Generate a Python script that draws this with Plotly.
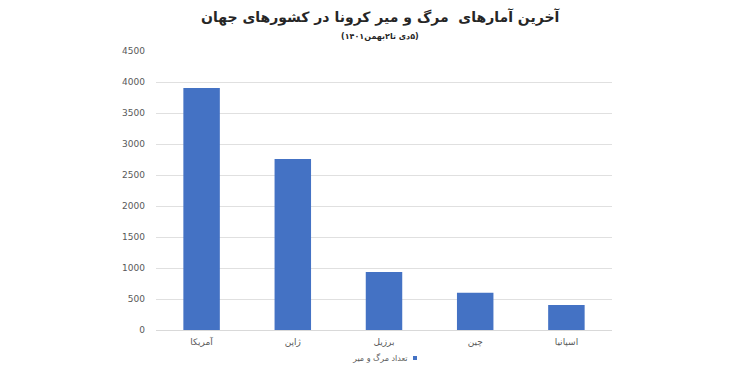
import plotly.graph_objects as go

categories = ["آمریکا", "ژاپن", "برزیل", "چین", "اسپانیا"]
deaths = [3903, 2760, 935, 600, 405]
y_ticks = [0, 500, 1000, 1500, 2000, 2500, 3000, 3500, 4000, 4500]
series_name = "تعداد مرگ و میر"
title_text = "آخرین آمارهای  مرگ و میر کرونا در کشورهای جهان"
LRM = "\u200E"
subtitle_parts = ["(", "۱۴۰۱", "بهمن", "۲", "تا", " ", "دی", "۵", ")"]
subtitle_text = "\u202A" + LRM.join(subtitle_parts) + "\u202C"

W, H = 745, 375
L, R, T, B = 156, 133, 51, 45
plot_w = W - L - R
plot_h = H - T - B

def px_x(x):
    return (x - L) / plot_w

def px_y(y):
    return 1 + (T - y) / plot_h

bar_color = "#4472C4"

fig = go.Figure()
fig.add_trace(go.Bar(
    x=categories, y=deaths, name=series_name,
    marker=dict(color=bar_color, line=dict(width=0)),
    showlegend=False,
))

fig.update_layout(
    width=W, height=H,
    margin=dict(l=L, r=R, t=T, b=B, autoexpand=False),
    paper_bgcolor="white", plot_bgcolor="white",
    bargap=0.6,
    font=dict(family="DejaVu Sans", color="#595959"),
    xaxis=dict(
        showgrid=False, showline=True, linecolor="#d9d9d9", linewidth=1,
        ticks="", tickfont=dict(size=9, color="#595959"),
        ticklabelstandoff=3,
    ),
    yaxis=dict(
        range=[0, 4500], tickvals=y_ticks,
        showgrid=True, gridcolor="#e0e0e0", gridwidth=1,
        zeroline=False, showline=False,
        tickfont=dict(size=9, color="#595959"),
        ticklabelstandoff=10,
    ),
    annotations=[
        dict(text="<b>" + title_text + "</b>", x=px_x(380), xref="paper",
             y=px_y(17), yref="paper", yanchor="middle", showarrow=False,
             font=dict(size=14, color="#262626", family="DejaVu Sans")),
        dict(text="<b>" + subtitle_text + "</b>", x=px_x(380), xref="paper",
             y=px_y(36), yref="paper", yanchor="middle", showarrow=False,
             font=dict(size=8, color="#262626", family="DejaVu Sans")),
        dict(text=series_name, x=px_x(410), xref="paper", xanchor="right",
             y=px_y(358), yref="paper", yanchor="middle", showarrow=False,
             font=dict(size=8, color="#595959", family="DejaVu Sans")),
    ],
    shapes=[
        dict(type="rect", xref="paper", yref="paper",
             x0=px_x(413), x1=px_x(417), y0=px_y(360), y1=px_y(356),
             fillcolor=bar_color, line=dict(width=0)),
    ],
)

fig.write_html("out.html")
